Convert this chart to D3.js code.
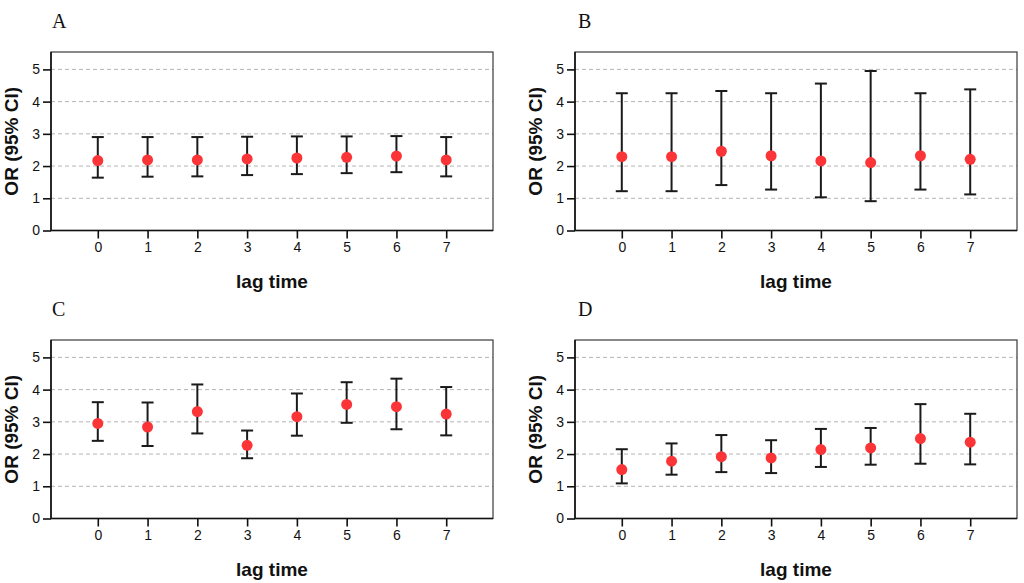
<!DOCTYPE html>
<html>
<head>
<meta charset="utf-8">
<script src="https://cdn.jsdelivr.net/npm/d3@7"></script>
<style>
  body { margin: 0; background: #fff; }
  svg { display: block; }
</style>
</head>
<body>
<svg id="chart" width="1024" height="583"></svg>
<script>
// lag time categories
var lags = [0, 1, 2, 3, 4, 5, 6, 7];
var yTicks = [0, 1, 2, 3, 4, 5];
var panelNames = ["A", "B", "C", "D"];

// odds ratios and 95% CI bounds
var orA  = [2.17, 2.19, 2.19, 2.22, 2.25, 2.27, 2.31, 2.19];
var loA  = [1.64, 1.67, 1.68, 1.72, 1.75, 1.78, 1.81, 1.68];
var hiA  = [2.90, 2.90, 2.90, 2.91, 2.92, 2.92, 2.93, 2.90];

var orB  = [2.29, 2.29, 2.46, 2.32, 2.16, 2.11, 2.32, 2.21];
var loB  = [1.22, 1.22, 1.41, 1.27, 1.03, 0.91, 1.27, 1.12];
var hiB  = [4.26, 4.26, 4.33, 4.26, 4.56, 4.95, 4.26, 4.38];

var orC  = [2.95, 2.84, 3.32, 2.27, 3.16, 3.54, 3.47, 3.24];
var loC  = [2.41, 2.25, 2.64, 1.87, 2.57, 2.97, 2.77, 2.58];
var hiC  = [3.61, 3.60, 4.16, 2.73, 3.88, 4.23, 4.34, 4.08];

var orD  = [1.52, 1.78, 1.92, 1.88, 2.14, 2.19, 2.48, 2.37];
var loD  = [1.09, 1.36, 1.44, 1.41, 1.60, 1.67, 1.70, 1.68];
var hiD  = [2.15, 2.33, 2.59, 2.43, 2.78, 2.81, 3.55, 3.25];

var panelOR = [orA, orB, orC, orD];
var panelLo = [loA, loB, loC, loD];
var panelHi = [hiA, hiB, hiC, hiD];

var svg = d3.select("#chart");

// frame boxes of the four panels
var boxes = [
    {left: 51,  top: 52,  width: 442, height: 178.5},
    {left: 575, top: 52,  width: 442, height: 178.5},
    {left: 51,  top: 340, width: 442, height: 178.5},
    {left: 575, top: 340, width: 442, height: 178.5}
];

function DrawPanel(p) {
    var box = boxes[p];
    var g = svg.append("g").attr("transform", "translate(" + box.left + "," + box.top + ")");

    var x = d3.scaleLinear().domain([-0.94, 7.94]).range([0, box.width]);
    var y = d3.scaleLinear().domain([0, 5.54]).range([box.height, 0]);

    // dashed grid
    g.selectAll("line.grid")
        .data(yTicks.filter(function(d) { return d > 0; }))
        .enter().append("line")
        .attr("class", "grid")
        .attr("x1", 0)
        .attr("x2", box.width)
        .attr("y1", function(d) { return y(d); })
        .attr("y2", function(d) { return y(d); })
        .attr("stroke", "#b4b4b4")
        .attr("stroke-width", 1)
        .attr("stroke-dasharray", "4,3");

    // frame
    g.append("rect")
        .attr("x", 0)
        .attr("y", 0)
        .attr("width", box.width)
        .attr("height", box.height)
        .attr("fill", "none")
        .attr("stroke", "#3a3a3a")
        .attr("stroke-width", 1.2);

    var yAxis = g.append("g")
        .call(d3.axisLeft(y).tickValues(yTicks).tickSize(8).tickPadding(3).tickFormat(d3.format("d")));
    var xAxis = g.append("g")
        .attr("transform", "translate(0," + box.height + ")")
        .call(d3.axisBottom(x).tickValues(lags).tickSize(8).tickPadding(4).tickFormat(d3.format("d")));

    [yAxis, xAxis].forEach(function(a) {
        a.select(".domain").remove();
        a.selectAll(".tick line").attr("stroke", "#111").attr("stroke-width", 1.6);
        a.selectAll(".tick text")
            .attr("font-family", "Arial, 'Liberation Sans', sans-serif")
            .attr("font-size", 14)
            .attr("fill", "#111");
    });

    // left and bottom axis lines
    g.append("line")
        .attr("x1", 0).attr("x2", 0)
        .attr("y1", 0).attr("y2", box.height)
        .attr("stroke", "#111").attr("stroke-width", 1.6);
    g.append("line")
        .attr("x1", 0).attr("x2", box.width)
        .attr("y1", box.height).attr("y2", box.height)
        .attr("stroke", "#111").attr("stroke-width", 1.6);

    var rows = lags.map(function(d, i) {
        return {lag: d, or: panelOR[p][i], lo: panelLo[p][i], hi: panelHi[p][i]};
    });

    // error bars
    var bars = g.selectAll("g.bar").data(rows).enter().append("g").attr("class", "bar");
    bars.append("line")
        .attr("x1", function(d) { return x(d.lag); })
        .attr("x2", function(d) { return x(d.lag); })
        .attr("y1", function(d) { return y(d.lo); })
        .attr("y2", function(d) { return y(d.hi); })
        .attr("stroke", "#1a1a1a").attr("stroke-width", 2);
    ["lo", "hi"].forEach(function(k) {
        bars.append("line")
            .attr("x1", function(d) { return x(d.lag) - 6; })
            .attr("x2", function(d) { return x(d.lag) + 6; })
            .attr("y1", function(d) { return y(d[k]); })
            .attr("y2", function(d) { return y(d[k]); })
            .attr("stroke", "#1a1a1a").attr("stroke-width", 2);
    });
    bars.append("circle")
        .attr("cx", function(d) { return x(d.lag); })
        .attr("cy", function(d) { return y(d.or); })
        .attr("r", 5.5)
        .attr("fill", "#fb3438");

    // axis titles
    g.append("text")
        .text("lag time")
        .attr("x", box.width / 2)
        .attr("y", box.height + 57)
        .attr("text-anchor", "middle")
        .attr("font-family", "Arial, 'Liberation Sans', sans-serif")
        .attr("font-weight", "bold")
        .attr("font-size", 19)
        .attr("fill", "#111");
    g.append("text")
        .text("OR (95% CI)")
        .attr("transform", "translate(-33," + (box.height / 2) + ") rotate(-90)")
        .attr("text-anchor", "middle")
        .attr("font-family", "Arial, 'Liberation Sans', sans-serif")
        .attr("font-weight", "bold")
        .attr("font-size", 19)
        .attr("fill", "#111");

    // panel letter
    g.append("text")
        .text(panelNames[p])
        .attr("x", p % 2 == 0 ? 1 : 3)
        .attr("y", -24)
        .attr("font-family", "'Liberation Serif', 'Times New Roman', serif")
        .attr("font-size", 20)
        .attr("fill", "#111");
}

for (var p = 0; p < 4; p++) {
    DrawPanel(p);
}
</script>
</body>
</html>
